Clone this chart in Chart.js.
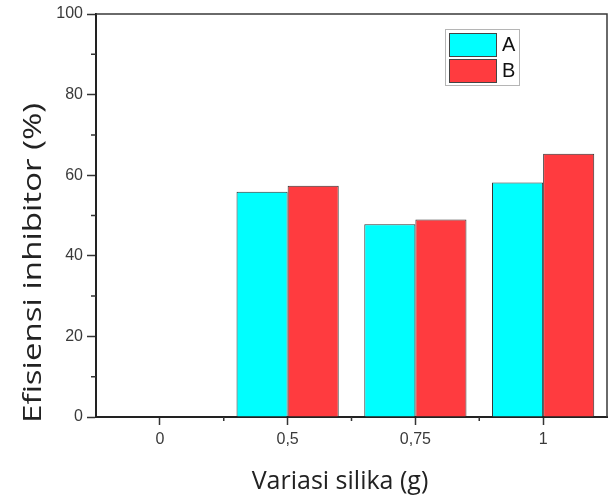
<!DOCTYPE html>
<html>
<head>
<meta charset="utf-8">
<script src="https://cdn.jsdelivr.net/npm/chart.js@4"></script>
<style>
  html, body { margin: 0; padding: 0; background: #fff; }
  canvas { display: block; }
</style>
</head>
<body>
<canvas id="silika_chart" width="612" height="496"></canvas>
<script>
// values
const categories = ['0', '0,5', '0,75', '1'];
const seriesA = [null, 55.9, 47.8, 58.2];
const seriesB = [null, 57.4, 49.0, 65.3];
const seriesNames = ['A', 'B'];
const seriesColors = ['#00FFFF', '#FF3B3F'];
const minorY = [10, 30, 50, 70, 90];

const xTitle = 'Variasi silika (g)';
const yTitle = 'Efisiensi inhibitor (%)';

const frame = {
	id: 'frame',
	afterDraw(chart) {
		const ctx = chart.ctx;
		const a = chart.chartArea;
		const xs = chart.scales.x;
		const ys = chart.scales.y;
		ctx.save();

		// top and right border of the box
		ctx.strokeStyle = '#3a3a3a';
		ctx.lineWidth = 1.5;
		ctx.beginPath();
		ctx.moveTo(a.left, a.top);
		ctx.lineTo(a.right, a.top);
		ctx.lineTo(a.right, a.bottom);
		ctx.stroke();

		// minor ticks
		ctx.strokeStyle = '#333';
		ctx.lineWidth = 1.5;
		ctx.beginPath();
		for (let i = 0; i < categories.length - 1; i++) {
			const x = (xs.getPixelForValue(i) + xs.getPixelForValue(i + 1)) / 2;
			ctx.moveTo(x, a.bottom);
			ctx.lineTo(x, a.bottom + 4);
		}
		minorY.forEach(v => {
			const y = ys.getPixelForValue(v);
			ctx.moveTo(a.left - 5, y);
			ctx.lineTo(a.left, y);
		});
		ctx.stroke();

		// axis titles
		ctx.fillStyle = '#222';
		ctx.font = '25px "Open Sans"';
		ctx.textAlign = 'center';
		ctx.textBaseline = 'alphabetic';
		ctx.fillText(xTitle, 340, 489);

		ctx.save();
		ctx.translate(41, 263);
		ctx.rotate(-Math.PI / 2);
		ctx.font = '26px "Open Sans"';
		const w = ctx.measureText(yTitle).width;
		ctx.scale(320 / w, 1);
		ctx.fillText(yTitle, 0, 0);
		ctx.restore();

		// legend
		const lx = 445, ly = 29;
		ctx.fillStyle = '#fff';
		ctx.fillRect(lx, ly, 74, 56);
		ctx.strokeStyle = '#b5b5b5';
		ctx.lineWidth = 1;
		ctx.strokeRect(lx + 0.5, ly + 0.5, 74, 56);
		chart.data.datasets.forEach((ds, i) => {
			const sy = ly + 4 + i * 26;
			ctx.fillStyle = ds.backgroundColor;
			ctx.fillRect(lx + 4, sy, 47, 23);
			ctx.strokeStyle = '#444';
			ctx.strokeRect(lx + 4.5, sy + 0.5, 47, 23);
			ctx.fillStyle = '#111';
			ctx.font = '20px "Liberation Sans", Arial';
			ctx.textAlign = 'left';
			ctx.textBaseline = 'middle';
			ctx.fillText(ds.label, lx + 57, sy + 12);
		});

		ctx.restore();
	}
};

const data = {
	labels: categories,
	datasets: [
		{
			label: seriesNames[0],
			data: seriesA,
			backgroundColor: seriesColors[0],
			borderColor: '#333',
			borderWidth: 1,
			categoryPercentage: 0.8,
			barPercentage: 1.0
		},
		{
			label: seriesNames[1],
			data: seriesB,
			backgroundColor: seriesColors[1],
			borderColor: '#333',
			borderWidth: 1,
			categoryPercentage: 0.8,
			barPercentage: 1.0
		}
	]
};

const tickFont = { family: '"Liberation Sans", Arial', size: 16 };

const config = {
	type: 'bar',
	data: data,
	options: {
		responsive: false,
		animation: false,
		devicePixelRatio: 1,
		layout: { padding: { top: 14, right: 5, left: 0, bottom: 0 } },
		plugins: {
			legend: { display: false },
			tooltip: { enabled: false }
		},
		scales: {
			x: {
				offset: true,
				grid: {
					offset: false,
					drawOnChartArea: false,
					tickLength: 8,
					tickColor: '#333',
					tickWidth: 1.5
				},
				border: { color: '#222', width: 2 },
				ticks: { color: '#3a3a3a', font: tickFont, padding: 5, maxRotation: 0 },
				afterFit(scale) { scale.height = 79; }
			},
			y: {
				min: 0,
				max: 100,
				ticks: { stepSize: 20, color: '#3a3a3a', font: tickFont, padding: 4 },
				grid: {
					drawOnChartArea: false,
					tickLength: 9,
					tickColor: '#333',
					tickWidth: 1.5
				},
				border: { color: '#222', width: 2 },
				afterFit(scale) { scale.width = 96; }
			}
		}
	},
	plugins: [frame]
};

const silikaChart = new Chart(document.getElementById('silika_chart'), config);
</script>
</body>
</html>
